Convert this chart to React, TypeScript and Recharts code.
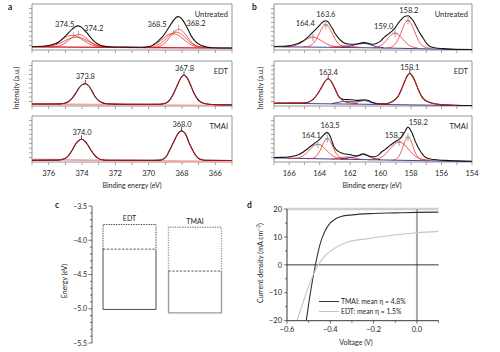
import React from 'react';
import {
  LineChart, Line, XAxis, YAxis, ReferenceArea, ReferenceDot, ReferenceLine,
  BarChart, Bar, Legend,
} from 'recharts';

type Pt = [number, number];
type Lbl = [string, number, number];

const FONT = 'Lato, "Open Sans", "DejaVu Sans", sans-serif';
const FRAME = '#8a8a8a';
const TXT = '#262626';

// ---------------- Panel a : Pb 4f (binding energy, eV) ----------------
const A_DOMAIN: [number, number] = [365, 377];
const aTicks = [365, 366, 367, 368, 369, 370, 371, 372, 373, 374, 375, 376, 377];

const aUntreatedBg: Pt[] = [[377, 7], [365, 4]];
const aUntreatedEnv: Pt[] = [[377, 7.2], [376.4, 8], [376.0, 9.5], [375.7, 12.5], [375.4, 17], [375.2, 23], [375.0, 30], [374.8, 38], [374.6, 45], [374.4, 50.5], [374.26, 52.5], [374.1, 51], [373.9, 45], [373.7, 37], [373.5, 28], [373.3, 20], [373.1, 14], [372.9, 10.5], [372.7, 8.5], [372.3, 7], [371.5, 6.3], [370.5, 6], [370.2, 6.2], [369.9, 8], [369.7, 12], [369.5, 17], [369.3, 24], [369.1, 32], [368.9, 43], [368.7, 54], [368.5, 65], [368.3, 72], [368.2, 72.5], [368.05, 69], [367.8, 56], [367.6, 42], [367.4, 28], [367.2, 19], [367.0, 13], [366.8, 9], [366.6, 7], [366.2, 5], [365, 4.2]];
const aUntreatedC1: Pt[] = [[376.6, 6.6], [376.1, 8.1], [375.85, 10.3], [375.6, 14], [375.35, 19.3], [375.1, 25.3], [374.85, 30.1], [374.6, 32], [374.35, 30.1], [374.1, 25.3], [373.85, 19.3], [373.6, 14], [373.35, 10.3], [373.1, 8.1], [372.6, 6.6]];
const aUntreatedC2: Pt[] = [[375.9, 6.6], [375.7, 7.0], [375.45, 8.2], [375.2, 11.1], [374.95, 16.6], [374.7, 24.1], [374.45, 31.1], [374.2, 34], [373.95, 31.1], [373.7, 24.1], [373.45, 16.6], [373.2, 11.1], [372.95, 8.2], [372.7, 7.0], [372.4, 6.5]];
const aUntreatedC3: Pt[] = [[376.35, 6.9], [375.85, 8.7], [375.6, 10.9], [375.35, 14.2], [375.1, 18.6], [374.85, 23.2], [374.6, 26.7], [374.35, 28], [374.1, 26.7], [373.85, 23.2], [373.6, 18.6], [373.35, 14.2], [373.1, 10.9], [372.85, 8.7], [372.35, 6.9]];
const aUntreatedC4: Pt[] = [[370.55, 5.2], [370.05, 6.7], [369.8, 9.1], [369.55, 13.5], [369.3, 19.9], [369.05, 27.4], [368.8, 33.6], [368.55, 36], [368.3, 33.6], [368.05, 27.4], [367.8, 19.9], [367.55, 13.5], [367.3, 9.1], [367.05, 6.7], [366.55, 5.2]];
const aUntreatedC5: Pt[] = [[369.7, 5.4], [369.45, 6.8], [369.2, 10.4], [368.95, 18], [368.7, 29.3], [368.45, 40.3], [368.2, 45], [367.95, 40.3], [367.7, 29.3], [367.45, 18], [367.2, 10.4], [366.95, 6.8], [366.7, 5.4]];
const aUntreatedC6: Pt[] = [[370.35, 5.1], [369.85, 6.2], [369.6, 8.3], [369.35, 12.7], [369.1, 19.7], [368.85, 28.4], [368.6, 36], [368.35, 39], [368.1, 36], [367.85, 28.4], [367.6, 19.7], [367.35, 12.7], [367.1, 8.3], [366.85, 6.2], [366.35, 5.1]];
const aUntreatedMarks: Pt[] = [[374.5, 32], [374.2, 35], [368.5, 37.5], [368.2, 48.5]];
const aUntreatedLabels: Lbl[] = [['374.5', 375.04, 56], ['374.2', 373.3, 47], ['368.5', 369.5, 56], ['368.2', 367.16, 59]];

const aEdtBg: Pt[] = [[377, 4], [370, 2], [365, 0.5]];
const aEdtFit: Pt[] = [[377, 4.5], [376, 4.3], [375.3, 4.8], [375.0, 6.5], [374.8, 10], [374.6, 17], [374.4, 27], [374.2, 39], [374.0, 47], [373.8, 49.6], [373.6, 45], [373.4, 33], [373.2, 20], [373.0, 12], [372.8, 7.5], [372.5, 5], [372, 4.2], [370, 3.8], [369.4, 4], [369.2, 4.5], [369.0, 6], [368.8, 11], [368.6, 21], [368.4, 36], [368.2, 53], [368.0, 66], [367.88, 68.4], [367.7, 63], [367.5, 48], [367.3, 30], [367.1, 17], [366.9, 9.5], [366.7, 6], [366.4, 4], [366, 3], [365, 2.5]];
const aEdtMarks: Pt[] = [[373.8, 49.6], [367.88, 68.4]];
const aEdtLabels: Lbl[] = [['373.8', 373.8, 66], ['367.8', 367.85, 84]];

const aTmaiBg: Pt[] = [[377, 5.5], [371, 3], [365, 0.5]];
const aTmaiFit: Pt[] = [[377, 3.6], [375.5, 4], [375.2, 5.5], [375.0, 8], [374.8, 14.5], [374.6, 25], [374.4, 38], [374.2, 46.5], [374.03, 49.3], [373.85, 46], [373.65, 37], [373.45, 25], [373.25, 15], [373.05, 8.5], [372.8, 5], [372.4, 3.8], [370, 3.5], [369.3, 4], [369.1, 7], [368.9, 14], [368.8, 21.7], [368.65, 32], [368.5, 43.5], [368.3, 58], [368.15, 65.5], [368.03, 67.4], [367.9, 65.5], [367.75, 58], [367.6, 43.5], [367.45, 32], [367.3, 21.7], [367.15, 13], [367.0, 7.5], [366.8, 4.8], [366.5, 3.6], [365, 3.2]];
const aTmaiMarks: Pt[] = [[374.03, 49.3], [368.03, 67.4]];
const aTmaiLabels: Lbl[] = [['374.0', 374.0, 64], ['368.0', 368.0, 83]];

// ---------------- Panel b : S 2p (binding energy, eV) ----------------
const B_DOMAIN: [number, number] = [154, 167];
const bTicks = [154, 155, 156, 157, 158, 159, 160, 161, 162, 163, 164, 165, 166, 167];

const bUntreatedBg: Pt[] = [[167, 7], [160, 4.5], [154, 0.3]];
const bUntreatedEnv: Pt[] = [[167, 7.5], [166.5, 8], [166.05, 9], [165.7, 11.5], [165.4, 14.6], [165.15, 18.5], [164.95, 23], [164.7, 30], [164.52, 36.5], [164.35, 42], [164.19, 47], [164.0, 54], [163.76, 62], [163.6, 63.5], [163.45, 61], [163.32, 55], [163.15, 46], [163.0, 36.5], [162.82, 28], [162.66, 22], [162.5, 17.5], [162.34, 14.6], [162.1, 13], [161.9, 12.4], [161.7, 12.5], [161.47, 13.5], [161.25, 15.5], [161.03, 16], [160.8, 14.5], [160.6, 12.4], [160.4, 13], [160.16, 16], [159.95, 21], [159.72, 29], [159.5, 34.5], [159.29, 40], [159.05, 48], [158.85, 58], [158.62, 67], [158.42, 73], [158.2, 74.5], [158.05, 71], [157.87, 64], [157.7, 54], [157.54, 44], [157.37, 34], [157.2, 25.5], [157.05, 17.5], [156.9, 11], [156.7, 7], [156.45, 5], [155.9, 3], [155.4, 2], [154, 1]];
const bUntreatedC1: Pt[] = [[166.45, 6.8], [165.95, 7.5], [165.7, 9], [165.45, 11.8], [165.2, 16.2], [164.95, 21.4], [164.7, 25.9], [164.45, 27.7], [164.2, 25.9], [163.95, 21.4], [163.7, 16.2], [163.45, 11.8], [163.2, 9], [162.95, 7.5], [162.45, 6.2]];
const bUntreatedC2: Pt[] = [[165.1, 6.7], [164.8, 7.6], [164.6, 9.8], [164.4, 15.2], [164.2, 24.8], [164.0, 37.9], [163.8, 49.9], [163.6, 54.7], [163.4, 49.8], [163.2, 37.6], [163.0, 24.5], [162.8, 14.9], [162.6, 9.5], [162.4, 7.3], [162.1, 6.2]];
const bUntreatedC3: Pt[] = [[163.3, 5.8], [162.9, 7], [162.6, 8.6], [162.3, 9.5], [162.0, 8.6], [161.7, 7], [161.3, 5.6]];
const bUntreatedN1: Pt[] = [[162.6, 5.6], [162.2, 7], [161.9, 9.5], [161.6, 12], [161.3, 13.8], [161.05, 14.2], [160.8, 12.8], [160.5, 9.5], [160.2, 6.5], [159.8, 4.8]];
const bUntreatedC4: Pt[] = [[160.55, 4.7], [160.3, 5.7], [160.05, 8.7], [159.8, 14.8], [159.55, 23.8], [159.3, 32.7], [159.05, 36.5], [158.8, 32.7], [158.55, 23.8], [158.3, 14.8], [158.05, 8.7], [157.8, 5.7], [157.55, 4.5]];
const bUntreatedC5: Pt[] = [[159.7, 4.1], [159.4, 5.2], [159.2, 8], [159.0, 14.6], [158.8, 26.7], [158.6, 42.9], [158.4, 57.8], [158.2, 64], [158.0, 57.8], [157.8, 42.9], [157.6, 26.7], [157.4, 14.6], [157.2, 8], [157.0, 5.2], [156.7, 3.8]];
const bUntreatedMarks: Pt[] = [[164.45, 27.7], [163.6, 54.7], [159.05, 36.5], [158.2, 64]];
const bUntreatedLabels: Lbl[] = [['164.4', 164.95, 57], ['163.6', 163.6, 76.6], ['159.0', 159.8, 52.5], ['158.2', 158.15, 86]];

const bEdtBg: Pt[] = [[167, 6.2], [160, 3.5], [154, 0.5]];
const bEdtEnv: Pt[] = [[167, 6.2], [165.5, 6.5], [165, 7], [164.74, 8.5], [164.55, 12], [164.4, 16], [164.2, 24], [164.08, 30], [163.87, 42], [163.65, 55], [163.44, 60.7], [163.25, 55], [163.05, 42], [162.9, 31], [162.77, 22], [162.6, 16.5], [162.44, 14.5], [162.2, 14.5], [161.9, 13.8], [161.6, 12.5], [161.3, 13], [161.05, 14], [160.8, 12], [160.55, 8], [160.3, 6], [160, 5], [159.6, 5.3], [159.4, 7], [159.18, 11], [159.0, 16], [158.85, 22], [158.63, 37], [158.41, 55.6], [158.25, 67], [158.08, 72.6], [157.92, 67], [157.75, 55.6], [157.53, 37], [157.32, 22], [157.15, 15], [156.99, 11], [156.7, 7], [156.45, 5], [156, 3], [155, 1.5], [154, 1]];
const bEdtFit1: Pt[] = [[167, 6.2], [165.5, 6.5], [165, 7], [164.74, 8.5], [164.55, 12], [164.4, 16], [164.2, 24], [164.08, 30], [163.87, 42], [163.65, 55], [163.44, 60.7], [163.25, 55], [163.05, 42], [162.9, 31], [162.77, 22], [162.6, 15], [162.44, 11], [162.2, 8], [161.9, 6.5], [161.5, 5.5]];
const bEdtFit2: Pt[] = [[160.3, 5], [160, 4.6], [159.6, 5], [159.4, 7], [159.18, 11], [159.0, 16], [158.85, 22], [158.63, 37], [158.41, 55.6], [158.25, 67], [158.08, 72.6], [157.92, 67], [157.75, 55.6], [157.53, 37], [157.32, 22], [157.15, 15], [156.99, 11], [156.7, 7], [156.45, 5], [156, 3], [155, 1.5]];
const bEdtN1: Pt[] = [[163.2, 5.3], [162.8, 8], [162.5, 10], [162.2, 10.5], [161.9, 9.5], [161.6, 9], [161.3, 11], [161.05, 12], [160.8, 10], [160.5, 7], [160.2, 5], [159.8, 4.3]];
const bEdtMarks: Pt[] = [[163.44, 60.7], [158.08, 72.6]];
const bEdtLabels: Lbl[] = [['163.4', 163.44, 76], ['158.1', 158.08, 85]];

const bTmaiBg: Pt[] = [[167, 9], [164, 7], [160, 4.5], [154, 1]];
const bTmaiEnv: Pt[] = [[167, 9.5], [166.5, 10], [166.05, 11], [165.7, 13], [165.4, 16], [165.15, 20], [164.95, 25], [164.75, 30], [164.52, 36], [164.3, 41.5], [164.08, 47], [163.9, 53], [163.76, 58], [163.54, 63.8], [163.4, 61], [163.32, 56.5], [163.2, 46], [163.1, 36], [162.95, 28], [162.77, 23], [162.6, 20], [162.44, 18], [162.2, 17], [162.0, 16], [161.8, 14.5], [161.58, 13.5], [161.35, 15.5], [161.14, 18], [160.95, 16], [160.8, 13.5], [160.6, 11.5], [160.37, 11.5], [160.15, 15], [159.94, 21.7], [159.72, 27], [159.5, 32.6], [159.3, 38], [159.07, 43.5], [158.85, 48], [158.63, 54], [158.45, 63], [158.3, 72.5], [158.2, 76], [158.08, 72], [157.97, 65], [157.85, 56], [157.75, 47], [157.6, 36], [157.42, 25], [157.25, 17], [157.1, 11], [156.9, 8], [156.66, 6], [156.2, 4.5], [155.78, 3.6], [155, 2.5], [154, 1.5]];
const bTmaiC1: Pt[] = [[166.1, 7.3], [165.62, 7.8], [165.37, 9.3], [165.12, 12.9], [164.87, 19.3], [164.62, 27.7], [164.37, 35.3], [164.12, 38.4], [163.87, 35.3], [163.62, 27.7], [163.37, 19.3], [163.12, 12.9], [162.87, 9.3], [162.62, 7.6], [162.1, 6.5]];
const bTmaiC2: Pt[] = [[164.8, 6.9], [164.5, 7.7], [164.3, 10.5], [164.1, 17.8], [163.95, 27], [163.8, 37.9], [163.65, 47.1], [163.5, 50.7], [163.35, 47.1], [163.2, 37.9], [163.05, 27], [162.9, 17.8], [162.7, 10.5], [162.5, 7.7], [162.2, 6.6]];
const bTmaiC3: Pt[] = [[163.2, 6.3], [162.8, 8], [162.5, 10], [162.25, 11], [162.0, 10], [161.7, 8], [161.3, 6]];
const bTmaiN1: Pt[] = [[162.6, 6], [162.3, 8], [162.0, 10], [161.7, 11], [161.4, 14], [161.14, 16.5], [160.9, 14], [160.6, 9.5], [160.3, 6.5], [160, 5]];
const bTmaiC4: Pt[] = [[160.78, 4.7], [160.28, 6.2], [160.03, 9], [159.78, 14.2], [159.53, 22.4], [159.28, 32.1], [159.03, 40.3], [158.78, 43.5], [158.53, 40.3], [158.28, 32.1], [158.03, 22.4], [157.78, 14.2], [157.53, 9], [157.28, 6.2], [156.78, 4]];
const bTmaiC5: Pt[] = [[159.2, 4.4], [159.0, 6.2], [158.8, 12.6], [158.65, 22.6], [158.5, 36.2], [158.35, 48.8], [158.2, 54], [158.05, 48.8], [157.9, 36.2], [157.75, 22.6], [157.6, 12.6], [157.4, 6.2], [157.2, 4.4], [156.9, 3.8]];
const bTmaiMarks: Pt[] = [[164.12, 38.4], [163.5, 50.7], [158.78, 43.5], [158.2, 54]];
const bTmaiLabels: Lbl[] = [['164.1', 164.55, 58], ['163.5', 163.32, 80], ['158.7', 159.1, 58], ['158.2', 157.53, 85.5]];

const xpsYTicks = [10, 20, 30, 40, 50, 60, 70, 80, 90];

// ---------------- Panel c : energy levels (eV) ----------------
const levelNames = ['EDT', 'TMAI'];
const cbEdge = [-3.77, -3.81];
const fermiLevel = [-4.13, -4.45];
const vbEdge = [-5.01, -5.06];
const cTicks = [-5.5, -5.4, -5.3, -5.2, -5.1, -5.0, -4.9, -4.8, -4.7, -4.6, -4.5, -4.4, -4.3, -4.2, -4.1, -4.0, -3.9, -3.8, -3.7, -3.6, -3.5];

// ---------------- Panel d : J–V curves ----------------
const jvTmai: Pt[] = [[-0.511, -20], [-0.493, -10.5], [-0.47, -0.5], [-0.447, 7.5], [-0.425, 12], [-0.4, 15], [-0.375, 16.5], [-0.35, 17.3], [-0.3, 17.9], [-0.2, 18.4], [-0.1, 18.6], [0, 18.8], [0.1, 18.9]];
const jvEdt: Pt[] = [[-0.554, -20], [-0.523, -12.8], [-0.4925, -6.2], [-0.462, -0.9], [-0.431, 2.7], [-0.385, 5.7], [-0.323, 8.1], [-0.231, 9.3], [-0.123, 10.5], [0, 11.5], [0.1, 12]];
const dXTicks = [-0.6, -0.5, -0.4, -0.3, -0.2, -0.1, 0, 0.1];
const dYTicks = [-20, -15, -10, -5, 0, 5, 10, 15, 20];
const seriesNames = ['TMAI: mean \u03b7 = 4.8%', 'EDT: mean \u03b7 = 1.5%'];

// ================= rendering =================
const toData = (pts: Pt[]) => pts.map(([x, y]) => ({ x, y }));
const minus = (s: string) => s.replace('-', '\u2212');

const STYLE: Record<string, { stroke: string; w: number }> = {
  env: { stroke: '#141414', w: 1.1 },
  comp: { stroke: '#ee2424', w: 0.75 },
  bgRed: { stroke: '#d4161c', w: 1.3 },
  pink: { stroke: '#f2a4a4', w: 1.8 },
  fit: { stroke: '#c4141c', w: 0.9 },
  fitRed: { stroke: '#e01818', w: 1.0 },
  navy: { stroke: '#2e2e84', w: 0.9 },
};

type Curve = { pts: Pt[]; k: string };
type Row = { top: number; h: number; name: string; curves: Curve[]; marks: Pt[]; labels: Lbl[]; mark: 'bar' | 'tick' | 'cross' };

function XpsPlot(props: { left: number; w: number; domain: [number, number]; ticks: number[]; row: Row; showLabels: boolean }) {
  const { left, w, domain, ticks, row, showLabels } = props;
  const YW = 8, MT = 1, MR = 9;
  const XH = showLabels ? 16 : 5;
  const xTick = (p: any) => {
    const v = p.payload.value;
    return (
      <g>
        <line x1={p.x} x2={p.x} y1={p.y} y2={p.y + 3} stroke={FRAME} strokeWidth={0.8} />
        {showLabels && v % 2 === 0 ? (
          <text x={p.x} y={p.y + 13.7} textAnchor="middle" fontSize={7.5} fill={TXT} fontFamily={FONT}>{v}</text>
        ) : null}
      </g>
    );
  };
  const yTick = (p: any) => (
    <line x1={p.x - 3} x2={p.x} y1={p.y} y2={p.y} stroke={FRAME} strokeWidth={0.8} />
  );
  const markShape = (p: any) => {
    const cx = p.cx, cy = p.cy;
    if (row.mark === 'cross') {
      return (
        <g stroke="#8c8c8c" strokeWidth={0.8}>
          <line x1={cx} x2={cx} y1={cy - 4} y2={cy + 4} />
          <line x1={cx - 2.5} x2={cx + 2.5} y1={cy} y2={cy} />
        </g>
      );
    }
    if (row.mark === 'tick') {
      return <line x1={cx} x2={cx} y1={cy - 4} y2={cy} stroke="#333" strokeWidth={0.8} />;
    }
    return <line x1={cx} x2={cx} y1={cy - 3} y2={cy + 3} stroke="#9a9a9a" strokeWidth={0.8} />;
  };
  return (
    <div style={{ position: 'absolute', left: left - YW, top: row.top - MT }}>
      <LineChart width={YW + w + MR} height={MT + row.h + XH} margin={{ top: MT, right: MR, bottom: 0, left: 0 }}>
        <XAxis type="number" dataKey="x" domain={domain} reversed allowDataOverflow ticks={ticks} interval={0}
          height={XH} axisLine={false} tickLine={false} tickSize={0} tickMargin={0} tick={xTick} />
        <YAxis type="number" domain={[0, 100]} allowDataOverflow ticks={xpsYTicks} interval={0}
          width={YW} axisLine={false} tickLine={false} tickSize={0} tickMargin={0} tick={yTick} />
        <ReferenceArea x1={domain[0]} x2={domain[1]} y1={0} y2={100} fill="none" fillOpacity={0} stroke={FRAME} strokeWidth={0.9} />
        {row.curves.map((c, i) => (
          <Line key={i} data={toData(c.pts)} dataKey="y" type="monotone" dot={false} activeDot={false}
            stroke={STYLE[c.k].stroke} strokeWidth={STYLE[c.k].w} isAnimationActive={false} />
        ))}
        {row.marks.map((m, i) => (
          <ReferenceDot key={'m' + i} x={m[0]} y={m[1]} r={0} ifOverflow="visible" shape={markShape} />
        ))}
        {row.labels.map((l, i) => (
          <ReferenceDot key={'l' + i} x={l[1]} y={l[2]} r={0} ifOverflow="visible"
            shape={(p: any) => (
              <text x={p.cx} y={p.cy} dy={2.7} textAnchor="middle" fontSize={7.5} fill={TXT} fontFamily={FONT}>{l[0]}</text>
            )} />
        ))}
      </LineChart>
    </div>
  );
}

const aRows: Row[] = [
  { top: 4, h: 46, name: 'Untreated', mark: 'bar', marks: aUntreatedMarks, labels: aUntreatedLabels,
    curves: [{ pts: aUntreatedBg, k: 'bgRed' }, { pts: aUntreatedC3, k: 'comp' }, { pts: aUntreatedC1, k: 'comp' }, { pts: aUntreatedC2, k: 'comp' },
      { pts: aUntreatedC6, k: 'comp' }, { pts: aUntreatedC4, k: 'comp' }, { pts: aUntreatedC5, k: 'comp' }, { pts: aUntreatedEnv, k: 'env' }] },
  { top: 61, h: 45, name: 'EDT', mark: 'tick', marks: aEdtMarks, labels: aEdtLabels,
    curves: [{ pts: aEdtBg, k: 'pink' }, { pts: aEdtFit, k: 'env' }, { pts: aEdtFit, k: 'fit' }] },
  { top: 116, h: 46, name: 'TMAI', mark: 'tick', marks: aTmaiMarks, labels: aTmaiLabels,
    curves: [{ pts: aTmaiBg, k: 'pink' }, { pts: aTmaiFit, k: 'env' }, { pts: aTmaiFit, k: 'fit' }] },
];

const bRows: Row[] = [
  { top: 4, h: 46, name: 'Untreated', mark: 'cross', marks: bUntreatedMarks, labels: bUntreatedLabels,
    curves: [{ pts: bUntreatedBg, k: 'navy' }, { pts: bUntreatedC1, k: 'comp' }, { pts: bUntreatedC2, k: 'comp' }, { pts: bUntreatedC3, k: 'comp' },
      { pts: bUntreatedN1, k: 'navy' }, { pts: bUntreatedC4, k: 'comp' }, { pts: bUntreatedC5, k: 'comp' }, { pts: bUntreatedEnv, k: 'env' }] },
  { top: 61, h: 45, name: 'EDT', mark: 'tick', marks: bEdtMarks, labels: bEdtLabels,
    curves: [{ pts: bEdtBg, k: 'navy' }, { pts: bEdtN1, k: 'navy' }, { pts: bEdtEnv, k: 'env' }, { pts: bEdtFit1, k: 'fitRed' }, { pts: bEdtFit2, k: 'fitRed' }] },
  { top: 116, h: 46, name: 'TMAI', mark: 'cross', marks: bTmaiMarks, labels: bTmaiLabels,
    curves: [{ pts: bTmaiBg, k: 'navy' }, { pts: bTmaiC1, k: 'comp' }, { pts: bTmaiC2, k: 'comp' }, { pts: bTmaiC3, k: 'comp' },
      { pts: bTmaiN1, k: 'navy' }, { pts: bTmaiC4, k: 'comp' }, { pts: bTmaiC5, k: 'comp' }, { pts: bTmaiEnv, k: 'env' }] },
];

const levelData = levelNames.map((name, i) => ({ name, range: [vbEdge[i], cbEdge[i]], cb: cbEdge[i], ef: fermiLevel[i], vb: vbEdge[i] }));

const LevelBox = (p: any) => {
  const { x, width, payload, index } = p;
  const top = Math.min(p.y, p.y + p.height);
  const h = Math.abs(p.height);
  const yEf = top + (h * (payload.cb - payload.ef)) / (payload.cb - payload.vb);
  const col = index === 0 ? '#1e1e1e' : '#9c9c9c';
  const sw = index === 0 ? 0.8 : 1.4;
  return (
    <g>
      <path d={`M${x},${yEf} L${x},${top} L${x + width},${top} L${x + width},${yEf}`} fill="none" stroke={col} strokeWidth={sw} strokeDasharray="1.4 1.1" />
      <line x1={x} x2={x + width} y1={yEf} y2={yEf} stroke="#333" strokeWidth={0.8} strokeDasharray="2.4 1.4" />
      <path d={`M${x},${yEf} L${x},${top + h} L${x + width},${top + h} L${x + width},${yEf}`} fill="none" stroke={col} strokeWidth={sw} />
      <text x={x + width / 2} y={top - 3} textAnchor="middle" fontSize={7} fill={TXT} fontFamily={FONT}>{payload.name}</text>
    </g>
  );
};

function PanelC() {
  const YW = 30, MT = 4;
  const yTick = (p: any) => {
    const v = p.payload.value;
    const major = Math.round(v * 10) % 5 === 0;
    return (
      <g>
        <line x1={p.x - (major ? 3.5 : 2)} x2={p.x} y1={p.y} y2={p.y} stroke="#333" strokeWidth={0.7} />
        {major ? (
          <text x={p.x - 5} y={p.y + 2.5} textAnchor="end" fontSize={7} fill={TXT} fontFamily={FONT}>{minus(v.toFixed(1))}</text>
        ) : null}
      </g>
    );
  };
  return (
    <div style={{ position: 'absolute', left: 92 - YW, top: 206 - MT }}>
      <BarChart width={YW + 136} height={MT + 137 + 4} data={levelData} margin={{ top: MT, right: 0, bottom: 4, left: 0 }}>
        <XAxis dataKey="name" hide height={0} padding={{ left: 5, right: 0 }} />
        <YAxis type="number" domain={[-5.5, -3.5]} allowDataOverflow ticks={cTicks} interval={0} width={YW}
          axisLine={{ stroke: '#333', strokeWidth: 0.8 }} tickLine={false} tickSize={0} tickMargin={0} tick={yTick} />
        <Bar dataKey="range" barSize={53} shape={LevelBox} isAnimationActive={false} />
      </BarChart>
    </div>
  );
}

function PanelD() {
  const YW = 24, MT = 3, XH = 16, MR = 8;
  const PL = 286.7, PT = 208.5, PW = 151.6, PH = 111.7;
  const xTick = (p: any) => {
    const v = p.payload.value;
    const major = Math.round(v * 10) % 2 === 0;
    return (
      <g>
        <line x1={p.x} x2={p.x} y1={p.y} y2={p.y + (major ? 3 : 2)} stroke="#333" strokeWidth={0.7} />
        {major ? (
          <text x={p.x} y={p.y + 11.5} textAnchor="middle" fontSize={7.5} fill={TXT} fontFamily={FONT}>{minus(v.toFixed(1))}</text>
        ) : null}
      </g>
    );
  };
  const yTick = (p: any) => {
    const v = p.payload.value;
    const major = v % 10 === 0;
    return (
      <g>
        <line x1={p.x - (major ? 3 : 2)} x2={p.x} y1={p.y} y2={p.y} stroke="#333" strokeWidth={0.7} />
        {major ? (
          <text x={p.x - 5} y={p.y + 2.7} textAnchor="end" fontSize={7.5} fill={TXT} fontFamily={FONT}>{minus(String(v))}</text>
        ) : null}
      </g>
    );
  };
  const legend = (lp: any) => {
    const items = [...(lp.payload || [])].sort((a: any, b: any) => seriesNames.indexOf(a.value) - seriesNames.indexOf(b.value));
    return (
      <div style={{ fontFamily: FONT, fontSize: 6.8, color: TXT }}>
        {items.map((e: any) => (
          <div key={e.value} style={{ display: 'flex', alignItems: 'center', height: 10, whiteSpace: 'nowrap' }}>
            <span style={{ display: 'inline-block', width: 20, height: 0, borderTop: `1.2px solid ${e.color}`, marginRight: 2 }} />
            <span>{e.value}</span>
          </div>
        ))}
      </div>
    );
  };
  const cl = PL - YW, ct = PT - MT;
  return (
    <div style={{ position: 'absolute', left: cl, top: ct }}>
      <LineChart width={YW + PW + MR} height={MT + PH + XH} margin={{ top: MT, right: MR, bottom: 0, left: 0 }}>
        <XAxis type="number" dataKey="x" domain={[-0.6, 0.1]} allowDataOverflow ticks={dXTicks} interval={0} height={XH}
          axisLine={{ stroke: '#222', strokeWidth: 0.9 }} tickLine={false} tickSize={0} tickMargin={0} tick={xTick} />
        <YAxis type="number" domain={[-20, 20]} allowDataOverflow ticks={dYTicks} interval={0} width={YW}
          axisLine={{ stroke: '#222', strokeWidth: 0.9 }} tickLine={false} tickSize={0} tickMargin={0} tick={yTick} />
        <ReferenceLine y={20} stroke="#d0d0d0" strokeWidth={2.5} />
        <ReferenceLine x={0} stroke="#a8a8a8" strokeWidth={2} />
        <ReferenceLine y={0} stroke="#222" strokeWidth={0.9} />
        <Line data={toData(jvTmai)} dataKey="y" name={seriesNames[0]} type="monotone" dot={false} activeDot={false}
          stroke="#333333" strokeWidth={1.1} isAnimationActive={false} />
        <Line data={toData(jvEdt)} dataKey="y" name={seriesNames[1]} type="monotone" dot={false} activeDot={false}
          stroke="#c4c4c4" strokeWidth={1.1} isAnimationActive={false} />
        <Legend layout="vertical" align="center" verticalAlign="middle" content={legend}
          wrapperStyle={{ position: 'absolute', left: 319 - cl, top: 296 - ct, width: 110 }} />
      </LineChart>
    </div>
  );
}

export default function App() {
  const t = { fontFamily: FONT, fill: TXT } as const;
  return (
    <div style={{ position: 'absolute', left: 0, top: 0, width: 500, height: 352, background: '#fff', overflow: 'hidden' }}>
      {aRows.map((r, i) => (
        <XpsPlot key={'a' + i} left={32} w={200} domain={A_DOMAIN} ticks={aTicks} row={r} showLabels={i === 2} />
      ))}
      {bRows.map((r, i) => (
        <XpsPlot key={'b' + i} left={274} w={198} domain={B_DOMAIN} ticks={bTicks} row={r} showLabels={i === 2} />
      ))}
      <PanelC />
      <PanelD />
      <svg width={500} height={352} style={{ position: 'absolute', left: 0, top: 0, pointerEvents: 'none' }}>
        <text x={8} y={9.5} fontSize={8.5} fontWeight="bold" {...t}>a</text>
        <text x={252} y={9.5} fontSize={8.5} fontWeight="bold" {...t}>b</text>
        <text x={55} y={208} fontSize={8.5} fontWeight="bold" {...t}>c</text>
        <text x={247} y={208} fontSize={8.5} fontWeight="bold" {...t}>d</text>
        {aRows.map((r, i) => (
          <text key={'an' + i} x={228} y={r.top + 12.5} fontSize={7.5} textAnchor="end" {...t}>{r.name}</text>
        ))}
        {bRows.map((r, i) => (
          <text key={'bn' + i} x={468} y={r.top + 12.5} fontSize={7.5} textAnchor="end" {...t}>{r.name}</text>
        ))}
        <text x={132} y={187.5} fontSize={7} textAnchor="middle" {...t}>Binding energy (eV)</text>
        <text x={372} y={187.5} fontSize={7} textAnchor="middle" {...t}>Binding energy (eV)</text>
        <text transform="translate(18.5,88) rotate(-90)" fontSize={7} textAnchor="middle" {...t}>Intensity (a.u.)</text>
        <text transform="translate(262.5,88) rotate(-90)" fontSize={7} textAnchor="middle" {...t}>Intensity (a.u.)</text>
        <text transform="translate(66.5,281) rotate(-90)" fontSize={7} textAnchor="middle" {...t}>Energy (eV)</text>
        <text transform="translate(262.5,263) rotate(-90)" fontSize={7} textAnchor="middle" {...t}>
          Current density (mA cm<tspan dy={-2.5} fontSize={5}>{'\u22122'}</tspan><tspan dy={2.5}>)</tspan>
        </text>
        <text x={356} y={345} fontSize={7} textAnchor="middle" {...t}>Voltage (V)</text>
      </svg>
    </div>
  );
}
